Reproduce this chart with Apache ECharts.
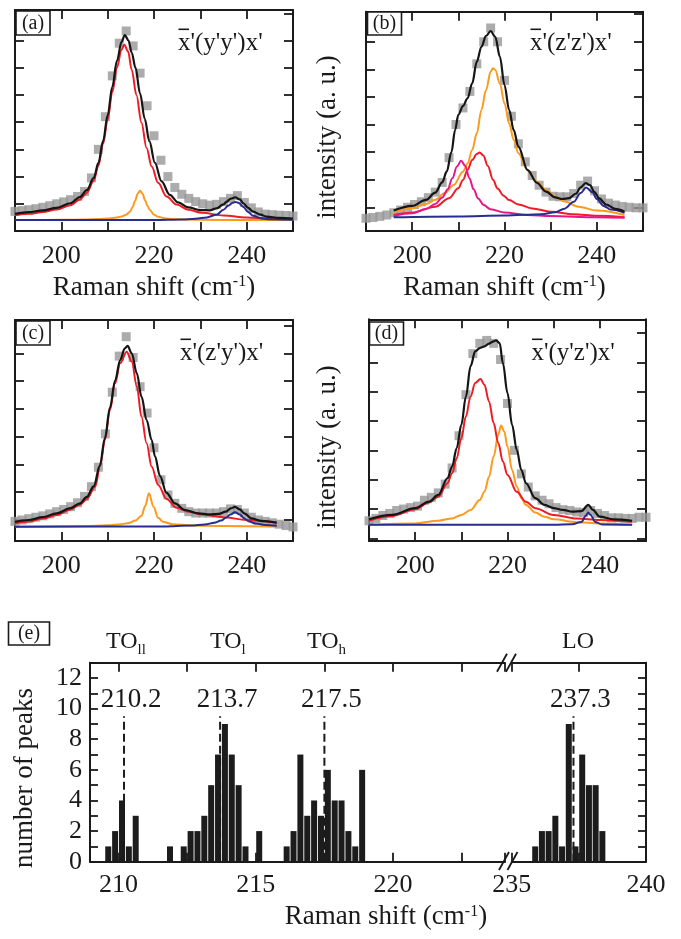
<!DOCTYPE html>
<html><head><meta charset="utf-8">
<script src="https://cdn.jsdelivr.net/npm/echarts@6/dist/echarts.min.js"></script>
<style>html,body{margin:0;padding:0;background:#fff}#c{width:681px;height:939px}</style>
</head><body><div id="c"></div>
<script>
const FONT = "'Liberation Serif','Times New Roman',Times,serif";
const INK = '#1a1a1a';
const C_GRAY = '#979797', C_BLACK = '#151515', C_RED = '#ee1c24', C_ORANGE = '#fb9a1e', C_BLUE = '#282c90', C_MAG = '#e6168c';

// ---------- panel (a) x'(y'y')x' ----------
const aGray = [[190,0.72],[191.5,0.75],[193,0.78],[194.5,0.82],[196,0.87],[197.5,0.93],[199,1.0],[200.5,1.07],[202,1.15],[203.5,1.27],[205,1.45],[206.5,1.95],[208,3.0],[209.5,4.2],[211,5.7],[212.5,6.9],[214,7.35],[215.5,6.8],[217,5.8],[218.5,4.6],[220,3.5],[221.5,2.6],[223,2.0],[224.5,1.6],[226,1.35],[227.5,1.2],[229,1.08],[230.5,1.0],[232,0.95],[233.5,0.98],[235,1.08],[236.5,1.2],[238,1.3],[239.5,1.05],[241,0.85],[242.5,0.7],[244,0.62],[245.5,0.6],[247,0.58],[248.5,0.57],[250,0.55]];
const aBlack = [[190,0.63],[193,0.69],[196,0.76],[199,0.85],[202,1.02],[204,1.25],[205.5,1.5],[207,1.95],[208,2.5],[209,3.3],[210,4.25],[211,5.3],[212,6.25],[213,6.95],[213.7,7.2],[214.5,7.0],[215.2,6.55],[216,6.0],[217,5.05],[218,4.12],[219,3.3],[220.2,2.5],[221.6,1.83],[223.4,1.33],[225.2,1.05],[227.4,0.87],[230,0.77],[232,0.76],[233.5,0.83],[235,0.98],[235.7,1.08],[236.6,1.19],[237.55,1.24],[238.5,1.16],[239.3,1.02],[240.3,0.85],[241.4,0.71],[243,0.6],[244.3,0.53],[247,0.48],[250,0.46]];
const aRed = [[190,0.58],[193,0.63],[196,0.7],[199,0.79],[202,0.95],[204,1.16],[205.5,1.4],[207,1.85],[208,2.4],[209,3.2],[210,4.1],[211,5.1],[212,6.0],[213,6.67],[213.6,6.84],[214.4,6.6],[215.2,5.92],[216.2,5.0],[217.3,3.98],[218.4,3.05],[219.5,2.37],[220.9,1.77],[222.7,1.27],[224.9,0.97],[227.4,0.78],[230.3,0.67],[235,0.57],[240,0.5],[245,0.46],[250,0.43]];
const aOrange = [[190,0.40],[200,0.41],[205,0.42],[208,0.44],[210,0.46],[212,0.5],[213,0.53],[214,0.6],[214.8,0.71],[215.4,0.88],[215.9,1.1],[216.5,1.38],[217,1.48],[217.5,1.38],[218.1,1.12],[218.6,0.92],[219.1,0.77],[220,0.6],[220.9,0.52],[222.5,0.46],[225,0.43],[230,0.41],[240,0.4],[250,0.4]];
const aBlue = [[190,0.40],[220,0.40],[226,0.42],[229,0.45],[231.4,0.5],[233.5,0.6],[235,0.78],[236,0.93],[237,1.04],[237.55,1.07],[238.3,1.03],[239.3,0.88],[240.3,0.7],[241.4,0.56],[243,0.47],[245,0.43],[250,0.41]];

// ---------- panel (b) x'(z'z')x' ----------
const bGray = [[190,-0.4],[191.5,-0.37],[193,-0.33],[194.5,-0.28],[196,-0.2],[197.5,-0.1],[199,0.0],[200.5,0.1],[202,0.2],[203.5,0.35],[205,0.55],[206.5,0.9],[208,1.8],[209.5,3.0],[211,3.6],[212.5,4.2],[214,5.2],[215.5,6.0],[217,6.5],[218.5,6.0],[220,4.6],[221.5,3.3],[223,2.3],[224.5,1.65],[226,1.15],[227.5,0.8],[229,0.55],[230.5,0.4],[232,0.38],[233.5,0.38],[235,0.5],[236.5,0.8],[238,0.95],[239.5,0.6],[241,0.3],[242.5,0.15],[244,0.08],[245.5,0.03],[247,0.0],[248.5,-0.02],[250,-0.02]];
const bBlack = [[196,-0.12],[200,0.05],[203,0.27],[205,0.53],[206.5,0.9],[207.5,1.3],[208.5,2.0],[209.3,2.8],[210,3.35],[211,3.67],[212,3.95],[213,4.49],[214,5.28],[215,5.82],[216,6.21],[217,6.39],[218,6.18],[219,5.46],[220,4.43],[221,3.53],[222,2.8],[223,2.2],[225,1.35],[227,0.89],[229,0.57],[231,0.36],[232.5,0.3],[234,0.33],[235.5,0.5],[236.5,0.72],[237.6,0.88],[238.5,0.8],[239.5,0.55],[240.5,0.32],[242,0.1],[244,-0.06],[246,-0.16]];
const bMagenta = [[196,-0.31],[200,-0.22],[203,-0.06],[205,0.12],[206.5,0.35],[207.7,0.65],[208.7,1.05],[209.7,1.48],[210.6,1.69],[211.5,1.5],[212.4,1.05],[213.3,0.65],[214.3,0.32],[215.5,0.08],[217,-0.07],[220,-0.19],[225,-0.28],[230,-0.32],[240,-0.36],[246,-0.38]];
const bRed = [[196,-0.28],[200,-0.19],[205,0.02],[208,0.33],[210,0.69],[211,0.99],[212,1.35],[213,1.71],[214,1.93],[214.6,1.99],[215.4,1.88],[216.4,1.5],[217.5,1.0],[218.5,0.68],[219.8,0.42],[221,0.26],[223,0.1],[226,-0.04],[230,-0.16],[235,-0.25],[240,-0.31],[246,-0.36]];
const bOrange = [[196,-0.16],[200,-0.04],[203,0.12],[205,0.27],[207,0.51],[209,0.81],[211,1.29],[212,1.59],[213,2.08],[214,2.68],[215,3.53],[216,4.25],[217,4.92],[217.5,5.04],[218,4.98],[219,4.49],[220,3.77],[221,3.04],[222,2.44],[223,1.96],[225,1.35],[227,0.93],[229,0.63],[231,0.39],[233,0.21],[236,0.02],[240,-0.12],[246,-0.28]];
const bBlue = [[196,-0.36],[210,-0.33],[220,-0.3],[228,-0.25],[231,-0.18],[233,-0.05],[235,0.2],[236.5,0.52],[237.7,0.72],[239,0.55],[240,0.3],[241.5,0.05],[243,-0.08],[246,-0.2]];

// ---------- panel (c) x'(z'y')x' ----------
const cGray = [[190,-0.05],[191.5,0.0],[193,0.05],[194.5,0.1],[196,0.15],[197.5,0.22],[199,0.3],[200.5,0.38],[202,0.48],[203.5,0.62],[205,0.85],[206.5,1.2],[208,1.9],[209.5,3.1],[211,4.6],[212.5,5.9],[214,6.6],[215.5,5.85],[217,4.8],[218.5,3.85],[220,2.6],[221.5,1.45],[223,0.9],[224.5,0.6],[226,0.42],[227.5,0.3],[229,0.25],[230.5,0.25],[232,0.25],[233.5,0.25],[235,0.3],[236.5,0.4],[238,0.38],[239.5,0.25],[241,0.1],[242.5,0.0],[244,-0.05],[245.5,-0.1],[247,-0.15],[248.5,-0.2],[250,-0.25]];
const cBlack = [[190,-0.07],[193,0.0],[196,0.1],[199,0.24],[202,0.43],[204,0.6],[205.5,0.83],[207,1.22],[208.3,1.95],[209.4,2.95],[210.5,4.05],[211.6,5.02],[212.7,5.76],[213.7,6.18],[214.3,6.27],[215.2,6.0],[216.3,5.28],[217.3,4.44],[218.4,3.6],[219.5,2.88],[220.2,2.3],[221.3,1.58],[222.7,0.98],[224.5,0.6],[226.7,0.36],[229.6,0.24],[232,0.2],[234,0.22],[235.5,0.3],[236.6,0.42],[237.5,0.47],[238.5,0.38],[239.5,0.24],[241,0.06],[243,-0.03],[246.5,-0.1]];
const cRed = [[190,-0.12],[193,-0.05],[196,0.05],[199,0.18],[202,0.38],[204,0.55],[205.5,0.76],[207.3,1.2],[208.4,1.95],[209.4,2.88],[210.5,3.96],[211.6,4.92],[212.7,5.64],[214.1,6.06],[215.2,5.7],[216.3,4.8],[217.3,3.72],[218.4,2.76],[219.5,1.92],[220.9,1.26],[222.7,0.76],[224.9,0.44],[227.4,0.3],[230.3,0.2],[235,0.1],[240,0.0],[246.5,-0.1]];
const cOrange = [[190,-0.24],[205,-0.22],[210,-0.19],[213,-0.15],[214.5,-0.11],[216,-0.02],[217.3,0.15],[218.1,0.5],[218.9,0.96],[219.9,0.48],[220.9,0.08],[222,-0.07],[224,-0.15],[228,-0.2],[235,-0.22],[246.5,-0.23]];
const cBlue = [[190,-0.24],[222,-0.23],[228,-0.2],[231,-0.16],[233,-0.1],[234.5,-0.02],[235.5,0.08],[236.5,0.2],[237.5,0.28],[238.5,0.2],[239.5,0.06],[240.5,-0.05],[242,-0.13],[244,-0.18],[246.5,-0.21]];

// ---------- panel (d) x'(y'z')x' ----------
const dGray = [[190,0.6],[191.5,0.68],[193,0.78],[194.5,0.85],[196,0.95],[197.5,1.0],[199,1.05],[200.5,1.1],[202,1.3],[203.5,1.4],[205,1.55],[206.5,1.85],[208,2.4],[209.5,3.5],[211,4.9],[212.5,6.3],[214,6.65],[215.5,6.75],[217,6.65],[218.5,6.1],[220,4.6],[221.5,3.0],[223,2.2],[224.5,1.75],[226,1.45],[227.5,1.3],[229,1.18],[230.5,1.05],[232,0.98],[233.5,0.95],[235,0.9],[236.5,0.88],[238,0.95],[239.5,0.85],[241,0.78],[242.5,0.7],[244,0.7],[245.5,0.68],[247,0.68],[248.5,0.72],[250,0.72]];
const dBlack = [[190,0.65],[195,0.8],[200,1.03],[203,1.25],[205,1.48],[207,2.05],[208,2.45],[209,3.08],[210,3.87],[211,4.84],[212,5.87],[213,6.38],[214,6.49],[215,6.55],[216,6.64],[217,6.72],[217.5,6.75],[218.3,6.66],[219,5.98],[220,4.95],[221,3.87],[222,3.02],[223,2.33],[224,1.88],[226,1.37],[228,1.14],[230,1.03],[232,0.97],[234,0.91],[236,0.93],[237.5,1.14],[238.5,0.97],[240,0.74],[243,0.65],[247,0.6]];
const dRed = [[190,0.6],[195,0.76],[200,0.99],[203,1.22],[205,1.42],[207,1.88],[208,2.22],[209,2.73],[210,3.42],[211,4.16],[212,4.84],[213,5.3],[214.15,5.43],[215,5.24],[216,4.67],[217,3.93],[218,3.25],[219,2.62],[220,2.16],[222,1.59],[224,1.25],[226,1.03],[230,0.8],[235,0.68],[240,0.63],[247,0.57]];
const dOrange = [[190,0.46],[200,0.51],[205,0.6],[208,0.68],[210,0.8],[212,0.97],[214,1.31],[215,1.59],[216,2.1],[217,2.79],[218,3.53],[218.6,3.85],[219.3,3.64],[220,3.13],[221,2.33],[222,1.77],[223,1.37],[224,1.14],[226,0.88],[228,0.74],[230,0.65],[235,0.55],[240,0.51],[247,0.46]];
const dBlue = [[190,0.46],[230,0.46],[234,0.48],[236,0.56],[237,0.78],[237.5,0.88],[238,0.8],[239,0.56],[240.5,0.47],[247,0.46]];

// ---------- panel (e) histogram ----------
const eBinsLow = [[209.625,1],[209.875,2],[210.125,4],[210.375,1],[210.625,3],[211.875,1],[212.375,1],[212.625,2],[212.875,2],[213.125,3],[213.375,5],[213.625,7],[213.875,9],[214.125,7],[214.375,5],[214.625,1],[215.125,2],[216.125,1],[216.375,2],[216.625,7],[216.875,3],[217.125,4],[217.375,3],[217.625,6],[217.875,4],[218.125,4],[218.375,2],[218.625,1],[218.875,6]];
const eBinsHigh = [[235.875,1],[236.125,2],[236.375,2],[236.625,3],[236.875,1],[237.125,9],[237.375,1],[237.625,7],[237.875,5],[238.125,5],[238.375,2]];
const ePeaksLow = [210.2, 213.7, 217.5];
const ePeaksHigh = [237.3];
const ePeakLineTop = 9.5;
const eXTicksLow = [210, 215, 220];
const eXTicksHigh = [235, 240];

// ---------- layout helpers ----------
const axLine = {show: true, onZero: false, lineStyle: {color: INK, width: 2}};
const tick = (len) => ({show: true, inside: true, length: len, lineStyle: {color: INK, width: 1.8}});
const nameRich = {
  t: {fontFamily: FONT, fontSize: 27, color: INK},
  s: {fontFamily: FONT, fontSize: 16, color: INK, verticalAlign: 'top'}
};
const RAMAN = '{t|Raman shift (cm}{s|-1}{t|)}';

function specX(grid, pos, withLabels, withName) {
  return {
    type: 'value', gridIndex: grid, position: pos, min: 190, max: 250, interval: 10,
    axisLine: axLine, axisTick: tick(9), splitLine: {show: false},
    axisLabel: {show: withLabels, margin: 12, fontFamily: FONT, fontSize: 26, color: INK,
      formatter: v => (v % 20 === 0 ? String(v) : '')},
    name: withName ? RAMAN : '', nameLocation: 'middle', nameGap: 43,
    nameTextStyle: {fontFamily: FONT, fontSize: 27, color: INK, rich: nameRich}
  };
}
function specY(grid, pos, min, max) {
  return {
    type: 'value', gridIndex: grid, position: pos, min: min, max: max,
    minInterval: 1, maxInterval: 1, splitNumber: 8,
    axisLine: axLine, axisTick: tick(9), splitLine: {show: false}, axisLabel: {show: false}
  };
}
function histX(grid, pos, min, max, labels, list) {
  const o = {
    type: 'value', gridIndex: grid, position: pos, min: min, max: max,
    axisLine: axLine, axisTick: tick(9), splitLine: {show: false},
    axisLabel: {show: labels, margin: 10, fontFamily: FONT, fontSize: 26, color: INK,
      formatter: v => (list.some(t => Math.abs(t - v) < 1e-6) ? String(v) : '')}
  };
  if (min % 2.5 === 0) { o.interval = 2.5; } else { o.minInterval = 2.5; o.maxInterval = 2.5; o.splitNumber = 6; }
  return o;
}
function histY(grid, pos, labels) {
  return {
    type: 'value', gridIndex: grid, position: pos, min: 0, max: 13, interval: 1,
    axisLine: axLine, axisTick: tick(8), splitLine: {show: false},
    axisLabel: {show: labels, margin: 8, fontFamily: FONT, fontSize: 26, color: INK,
      formatter: v => (v % 2 === 0 ? String(v) : '')}
  };
}

function lineS(data, color, xi, yi, w) {
  return {type: 'line', data: data, xAxisIndex: xi, yAxisIndex: yi, symbol: 'none',
    smooth: 0.35, smoothMonotone: 'x', lineStyle: {color: color, width: w || 2}, z: 3, silent: true, animation: false};
}
function grayS(data, xi, yi) {
  return {type: 'scatter', data: data, xAxisIndex: xi, yAxisIndex: yi, symbol: 'rect', symbolSize: 9,
    itemStyle: {color: C_GRAY}, z: 2, silent: true, animation: false};
}
function panelSeries(p, gray, comps, black) {
  const s = [grayS(gray, 2 * p, 2 * p)];
  comps.forEach(c => s.push(lineS(c[0], c[1], 2 * p, 2 * p, 2)));
  s.push(lineS(black, C_BLACK, 2 * p, 2 * p, 2.2));
  return s;
}
function barS(data, xi, yi) {
  return {type: 'bar', data: data, xAxisIndex: xi, yAxisIndex: yi, barWidth: 6, barGap: '-100%',
    itemStyle: {color: '#1c1c1c'}, z: 2, silent: true, animation: false};
}
function peakLine(p, xi, yi) {
  return {type: 'line', data: [[p, 0], [p, ePeakLineTop]], xAxisIndex: xi, yAxisIndex: yi, symbol: 'none',
    lineStyle: {color: INK, width: 2, type: [8, 4]}, z: 4, silent: true, animation: false};
}
function peakLabels(list, xi, yi) {
  return {type: 'scatter', data: list.map(p => [p, ePeakLineTop]), xAxisIndex: xi, yAxisIndex: yi,
    symbol: 'circle', symbolSize: 0.1, itemStyle: {color: INK, opacity: 1}, z: 5, silent: true, animation: false,
    label: {show: true, position: 'top', distance: 3, offset: [7, 0], fontFamily: FONT, fontSize: 27,
      color: INK, opacity: 1, textBorderWidth: 0,
      formatter: prm => prm.value[0].toFixed(1)}};
}

const series = [].concat(
  panelSeries(0, aGray, [[aOrange, C_ORANGE], [aRed, C_RED], [aBlue, C_BLUE]], aBlack),
  panelSeries(1, bGray, [[bOrange, C_ORANGE], [bRed, C_RED], [bMagenta, C_MAG], [bBlue, C_BLUE]], bBlack),
  panelSeries(2, cGray, [[cOrange, C_ORANGE], [cRed, C_RED], [cBlue, C_BLUE]], cBlack),
  panelSeries(3, dGray, [[dOrange, C_ORANGE], [dRed, C_RED], [dBlue, C_BLUE]], dBlack),
  [barS(eBinsLow, 8, 8), barS(eBinsHigh, 10, 9)],
  ePeaksLow.map(p => peakLine(p, 8, 8)),
  ePeaksHigh.map(p => peakLine(p, 10, 9)),
  [peakLabels(ePeaksLow, 8, 8), peakLabels(ePeaksHigh, 10, 9)]
);

// ---------- annotations ----------
function txt(x, y, text, size, align, extra) {
  return Object.assign({type: 'text', x: x, y: y, z: 100, silent: true,
    style: {text: text, font: size + 'px ' + FONT, fill: INK, textAlign: align, align: align,
      textVerticalAlign: 'middle', verticalAlign: 'middle'}}, extra || {});
}
function tagBox(x, y, w, h, label) {
  return [
    {type: 'rect', z: 99, silent: true, shape: {x: x, y: y, width: w, height: h}, style: {fill: '#fff', stroke: INK, lineWidth: 1.6}},
    txt(x + w / 2, y + h / 2 + 0.5, label, 20, 'center')
  ];
}
function geomTitle(x, y, text) {
  return [
    txt(x, y, text, 25, 'left'),
    {type: 'rect', z: 100, silent: true, shape: {x: x + 0.5, y: y - 14.5, width: 10.5, height: 1.6}, style: {fill: INK}}
  ];
}
function subLabel(x, y, main, sub, align) {
  return {type: 'text', x: x, y: y, z: 100, silent: true,
    style: {text: '{m|' + main + '}' + (sub ? '{s|' + sub + '}' : ''), textAlign: align, align: align,
      textVerticalAlign: 'middle', verticalAlign: 'middle', fill: INK,
      rich: {m: {fontFamily: FONT, fontSize: 24, fill: INK, color: INK},
             s: {fontFamily: FONT, fontSize: 15, fill: INK, color: INK, verticalAlign: 'bottom', padding: [0, 0, -4, 0]}}}};
}
function slash(cx, cy) {
  return {type: 'line', z: 100, silent: true, shape: {x1: cx - 5, y1: cy + 9, x2: cx + 5, y2: cy - 9}, style: {stroke: INK, lineWidth: 1.8}};
}

const graphic = [].concat(
  tagBox(16, 11, 34, 24, '(a)'), tagBox(367.5, 12, 34, 23, '(b)'),
  tagBox(16, 321, 34, 24, '(c)'), tagBox(369.5, 322, 34, 23, '(d)'),
  tagBox(8.5, 622, 41, 23, '(e)'),
  geomTitle(178, 43, "x'(y'y')x'"), geomTitle(530, 43, "x'(z'z')x'"),
  geomTitle(180, 353, "x'(z'y')x'"), geomTitle(531.5, 353, "x'(y'z')x'"),
  [txt(328, 137, 'intensity (a. u.)', 27, 'center', {rotation: Math.PI / 2}),
   txt(328, 447, 'intensity (a. u.)', 27, 'center', {rotation: Math.PI / 2}),
   txt(25, 778, 'number of peaks', 27, 'center', {rotation: Math.PI / 2}),
   {type: 'text', x: 386, y: 917, z: 100, silent: true,
    style: {text: RAMAN, textAlign: 'center', align: 'center', textVerticalAlign: 'middle', verticalAlign: 'middle',
      fill: INK, rich: {t: {fontFamily: FONT, fontSize: 27, fill: INK, color: INK}, s: {fontFamily: FONT, fontSize: 16, fill: INK, color: INK, verticalAlign: 'top'}}}},
   subLabel(106, 642, 'TO', 'll', 'left'), subLabel(210, 642, 'TO', 'l', 'left'),
   subLabel(307, 642, 'TO', 'h', 'left'), subLabel(578, 642, 'LO', '', 'center'),
   slash(502, 662.7), slash(511, 662.7), slash(504, 861), slash(512.5, 861)]
);

const option = {
  animation: false,
  backgroundColor: '#ffffff',
  grid: [
    {left: 15, top: 10, width: 278, height: 221, containLabel: false, outerBoundsMode: 'none'},
    {left: 366, top: 11.7, width: 277, height: 219.3, containLabel: false, outerBoundsMode: 'none'},
    {left: 15, top: 320, width: 278, height: 221, containLabel: false, outerBoundsMode: 'none'},
    {left: 369, top: 319.3, width: 277, height: 221.7, containLabel: false, outerBoundsMode: 'none'},
    {left: 90, top: 662.7, width: 415, height: 199, containLabel: false, outerBoundsMode: 'none'},
    {left: 511.7, top: 662.7, width: 134.3, height: 199, containLabel: false, outerBoundsMode: 'none'}
  ],
  xAxis: [
    specX(0, 'bottom', true, true), specX(0, 'top', false, false),
    specX(1, 'bottom', true, true), specX(1, 'top', false, false),
    specX(2, 'bottom', true, false), specX(2, 'top', false, false),
    specX(3, 'bottom', true, false), specX(3, 'top', false, false),
    histX(4, 'bottom', 208.96, 224.08, true, eXTicksLow), histX(4, 'top', 208.96, 224.08, false, eXTicksLow),
    histX(5, 'bottom', 235, 240, true, eXTicksHigh), histX(5, 'top', 235, 240, false, eXTicksHigh)
  ],
  yAxis: [
    specY(0, 'left', 0, 8.12), specY(0, 'right', 0, 8.12),
    specY(1, 'left', -0.86, 7.09), specY(1, 'right', -0.86, 7.09),
    specY(2, 'left', -0.756, 7.2), specY(2, 'right', -0.756, 7.2),
    specY(3, 'left', -0.09, 7.47), specY(3, 'right', -0.09, 7.47),
    histY(4, 'left', true), histY(5, 'right', false)
  ],
  series: series,
  graphic: graphic
};

const chart = echarts.init(document.getElementById('c'), null, {renderer: 'canvas'});
chart.setOption(option);
</script></body></html>
